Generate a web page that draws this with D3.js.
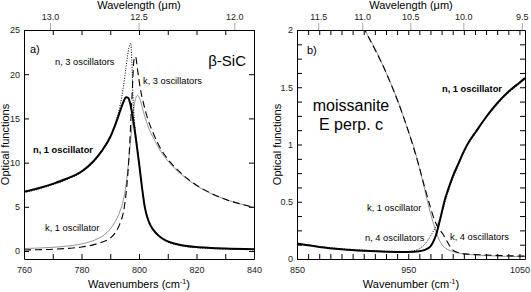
<!DOCTYPE html>
<html>
<head>
<meta charset="utf-8">
<script src="https://cdn.jsdelivr.net/npm/d3@7/dist/d3.min.js"></script>
<style>
  body { margin: 0; background: #fff; }
  svg { display: block; font-family: "Liberation Sans", Arial, sans-serif; }
  .axis text { font-size: 9px; fill: #222; }
  .axis path, .axis line { stroke: #000; stroke-width: 1; }
</style>
</head>
<body>
<div id="chart"></div>
<script>
// ---- panel a) beta-SiC, wavenumber vs optical functions ----
const aTicksX = [760, 770, 780, 790, 800, 810, 820, 830, 840];
const aTicksY = [0, 5, 10, 15, 20, 25];
const aWavelengths = [13.0, 12.5, 12.0];

const aN1 = [[760,6.7],[765,7.1],[770,7.6],[775,8.2],[780,9.0],[784,10.1],[787,11.3],[790,12.9],
  [792,14.5],[793.5,15.9],[794.5,16.8],[795.5,17.4],[796.3,17.3],[797,16.6],[798,14.8],[799,12.5],
  [800,10.0],[801,7.3],[802,5.0],[803,3.7],[804,2.9],[806,2.0],[808,1.45],[810,1.1],[813,0.8],
  [816,0.6],[820,0.45],[825,0.35],[830,0.28],[840,0.2]];
const aN3 = [[760,6.6],[765,7.0],[770,7.5],[775,8.1],[780,8.9],[784,10.0],[787,11.2],[790,12.9],
  [792,14.7],[793.5,16.6],[794.5,18.4],[795.5,20.8],[796.5,23.0],[797.1,23.5],[797.5,21.5],
  [797.9,17.5],[798.4,14.8],[799.2,12.3],[800.1,9.8],[801.1,7.1],[802.1,4.9],[803,3.6],[804,2.8],
  [806,1.9],[808,1.35],[810,1.0],[813,0.7],[816,0.52],[820,0.38],[825,0.28],[830,0.22],[840,0.15]];
const aK1 = [[760,0.28],[765,0.34],[770,0.42],[775,0.56],[780,0.8],[783,1.05],[786,1.45],[788,1.85],
  [790,2.5],[792,3.5],[793.5,4.6],[794.5,5.7],[795.5,7.5],[796.5,10.5],[797.5,14],[798.5,16.8],
  [799.5,17.6],[800.5,17.0],[801.5,15.8],[803,14.2],[805,12.8],[807.5,11.3],[810,10.2],[815,8.6],
  [820,7.4],[825,6.5],[830,5.85],[835,5.35],[840,4.95]];
const aK3 = [[760,0.12],[765,0.15],[770,0.2],[775,0.3],[780,0.45],[784,0.7],[787,1.0],[790,1.45],
  [792,2.2],[793.5,3.2],[794.5,4.3],[795.5,6.5],[796.5,10.5],[797.5,17],[798.3,21.7],[798.8,22.0],
  [799.5,20.5],[800.5,18.3],[801.5,16.8],[803,15],[805,13.3],[807.5,11.6],[810,10.4],[815,8.7],
  [820,7.45],[825,6.55],[830,5.85],[835,5.35],[840,4.95]];

// ---- panel b) moissanite E perp c ----
const bTicksX = d3.range(850, 1051, 10);
const bLabelsX = [850, 950, 1050];
const bTicksY = d3.range(0, 2.001, 0.125);
const bWavelengths = [11.5, 11.0, 10.5, 10.0, 9.5];

const bN1 = [[850,0.135],[870,0.105],[890,0.085],[910,0.072],[930,0.064],[950,0.062],[960,0.068],
  [965,0.08],[970,0.11],[973,0.16],[975,0.21],[977,0.28],[980,0.4],[983,0.52],[986,0.61],[990,0.72],
  [995,0.83],[1000,0.94],[1005,1.03],[1010,1.1],[1020,1.24],[1030,1.36],[1040,1.46],[1050,1.54],[1055,1.58]];
const bN4 = [[850,0.14],[870,0.11],[890,0.09],[910,0.077],[930,0.068],[950,0.066],[960,0.09],
  [965,0.13],[970,0.2],[973,0.25],[976,0.3],[979,0.36],[982,0.46],[985,0.56],[990,0.7],[995,0.82],
  [1000,0.93],[1005,1.02],[1010,1.09],[1020,1.23],[1030,1.35],[1040,1.45],[1050,1.53],[1055,1.57]];
const bK1 = [[905,2.12],[910,2.02],[920,1.84],[930,1.63],[940,1.4],[950,1.12],[955,0.98],[960,0.8],
  [965,0.6],[970,0.4],[973,0.3],[976,0.21],[980,0.13],[985,0.085],[990,0.065],[1000,0.045],
  [1020,0.03],[1055,0.02]];
const bK4 = [[905,2.12],[910,2.02],[930,1.63],[950,1.12],[960,0.8],[965,0.62],[970,0.45],[974,0.33],
  [978,0.26],[981,0.22],[984,0.17],[987,0.12],[990,0.08],[995,0.055],[1000,0.045],[1020,0.035],[1055,0.025]];

const W = 531, H = 292;
const svg = d3.select('#chart').append('svg').attr('width', W).attr('height', H);

const styles = {
  thick: {w: 2, c: '#000', dash: null},
  thin: {w: 0.8, c: '#777', dash: null},
  dot: {w: 1, c: '#000', dash: '1,1.5'},
  dash: {w: 1.1, c: '#000', dash: '7,4'}
};

function panel(cfg) {
  const x = d3.scaleLinear().domain(cfg.xDomain).range([cfg.left, cfg.right]);
  const y = d3.scaleLinear().domain(cfg.yDomain).range([cfg.bottom, cfg.top]);
  const g = svg.append('g');

  const clipId = 'clip-' + cfg.id;
  svg.append('clipPath').attr('id', clipId).append('rect')
    .attr('x', cfg.left).attr('y', cfg.top)
    .attr('width', cfg.right - cfg.left).attr('height', cfg.bottom - cfg.top);

  const line = d3.line().x(d => x(d[0])).y(d => y(d[1])).curve(d3.curveMonotoneX);
  cfg.series.forEach(s => {
    const st = styles[s.style];
    g.append('path')
      .attr('clip-path', 'url(#' + clipId + ')')
      .attr('d', line(s.data))
      .attr('fill', 'none')
      .attr('stroke', st.c)
      .attr('stroke-width', st.w)
      .attr('stroke-dasharray', st.dash);
  });

  // axes (ticks pointing inward)
  g.append('g').attr('class', 'axis').attr('transform', 'translate(0,' + cfg.bottom + ')')
    .call(d3.axisBottom(x).tickValues(cfg.ticksX).tickSizeInner(-5).tickSizeOuter(0).tickPadding(8)
      .tickFormat(d => cfg.labelsX.includes(d) ? d : ''));
  g.append('g').attr('class', 'axis').attr('transform', 'translate(0,' + cfg.top + ')')
    .call(d3.axisTop(x).tickValues(cfg.ticksX).tickSizeInner(-5).tickSizeOuter(0).tickFormat(''));
  g.append('g').attr('class', 'axis').attr('transform', 'translate(' + cfg.left + ',0)')
    .call(d3.axisLeft(y).tickValues(cfg.ticksY).tickSizeInner(-5).tickSizeOuter(0).tickPadding(4)
      .tickFormat(d => cfg.labelsY.includes(d) ? d : ''));
  g.append('g').attr('class', 'axis').attr('transform', 'translate(' + cfg.right + ',0)')
    .call(d3.axisRight(y).tickValues(cfg.ticksY).tickSizeInner(-5).tickSizeOuter(0).tickFormat(''));

  // wavelength labels along the top
  const wl = g.append('g');
  cfg.wavelengths.forEach(l => {
    const px = x(1e4 / l);
    wl.append('line').attr('x1', px).attr('x2', px).attr('y1', cfg.top - 7).attr('y2', cfg.top)
      .attr('stroke', '#aaa').attr('stroke-width', 1);
    wl.append('text').attr('x', px).attr('y', cfg.top - 10).attr('text-anchor', 'middle')
      .attr('font-size', 9).attr('fill', '#222').text(l.toFixed(1));
  });

  const midX = (cfg.left + cfg.right) / 2;
  g.append('text').attr('x', midX).attr('y', 9).attr('text-anchor', 'middle')
    .attr('font-size', 11).text('Wavelength (μm)');

  const xt = g.append('text').attr('x', midX).attr('y', 288).attr('text-anchor', 'middle')
    .attr('font-size', 11);
  xt.append('tspan').text(cfg.xTitle + ' (cm');
  xt.append('tspan').attr('dy', -4).attr('font-size', 7).text('-1');
  xt.append('tspan').attr('dy', 4).text(')');

  g.append('text')
    .attr('transform', 'translate(' + cfg.yTitleX + ',' + ((cfg.top + cfg.bottom) / 2) + ') rotate(-90)')
    .attr('text-anchor', 'middle').attr('font-size', 11).text('Optical functions');

  cfg.notes.forEach(n => {
    g.append('text').attr('x', n.x).attr('y', n.y).attr('font-size', n.size)
      .attr('font-weight', n.bold ? 'bold' : null)
      .attr('text-anchor', n.anchor || 'start')
      .text(n.text);
  });
}

panel({
  id: 'a', left: 24, right: 254, top: 30, bottom: 259,
  xDomain: [760, 840], yDomain: [-0.9, 25],
  ticksX: aTicksX, labelsX: [760, 780, 800, 820, 840],
  ticksY: aTicksY, labelsY: aTicksY,
  wavelengths: aWavelengths,
  xTitle: 'Wavenumbers', yTitleX: 9,
  series: [
    {data: aK1, style: 'thin'},
    {data: aK3, style: 'dash'},
    {data: aN3, style: 'dot'},
    {data: aN1, style: 'thick'}
  ],
  notes: [
    {x: 30, y: 53, size: 11, text: 'a)'},
    {x: 246, y: 66, size: 15, anchor: 'end', text: 'β-SiC'},
    {x: 55, y: 65, size: 9.3, text: 'n, 3 oscillators'},
    {x: 143, y: 84, size: 9.3, text: 'k, 3 oscillators'},
    {x: 33, y: 153, size: 9.3, bold: true, text: 'n, 1 oscillator'},
    {x: 45, y: 231, size: 9.3, text: 'k, 1 oscillator'}
  ]
});

panel({
  id: 'b', left: 297, right: 525, top: 30, bottom: 259,
  xDomain: [850, 1055], yDomain: [0, 2],
  ticksX: bTicksX, labelsX: bLabelsX,
  ticksY: bTicksY, labelsY: [0, 0.5, 1, 1.5, 2],
  wavelengths: bWavelengths,
  xTitle: 'Wavenumber', yTitleX: 281,
  series: [
    {data: bK1, style: 'thin'},
    {data: bK4, style: 'dash'},
    {data: bN4, style: 'dot'},
    {data: bN1, style: 'thick'}
  ],
  notes: [
    {x: 307, y: 54, size: 11, text: 'b)'},
    {x: 351, y: 111, size: 16, anchor: 'middle', text: 'moissanite'},
    {x: 351, y: 130, size: 16, anchor: 'middle', text: 'E perp. c'},
    {x: 442, y: 92, size: 9.3, bold: true, text: 'n, 1 oscillator'},
    {x: 367, y: 211, size: 9.3, text: 'k, 1 oscillator'},
    {x: 365, y: 241, size: 9.3, text: 'n, 4 oscillators'},
    {x: 450, y: 240, size: 9.3, text: 'k, 4 oscillators'}
  ]
});
</script>
</body>
</html>
